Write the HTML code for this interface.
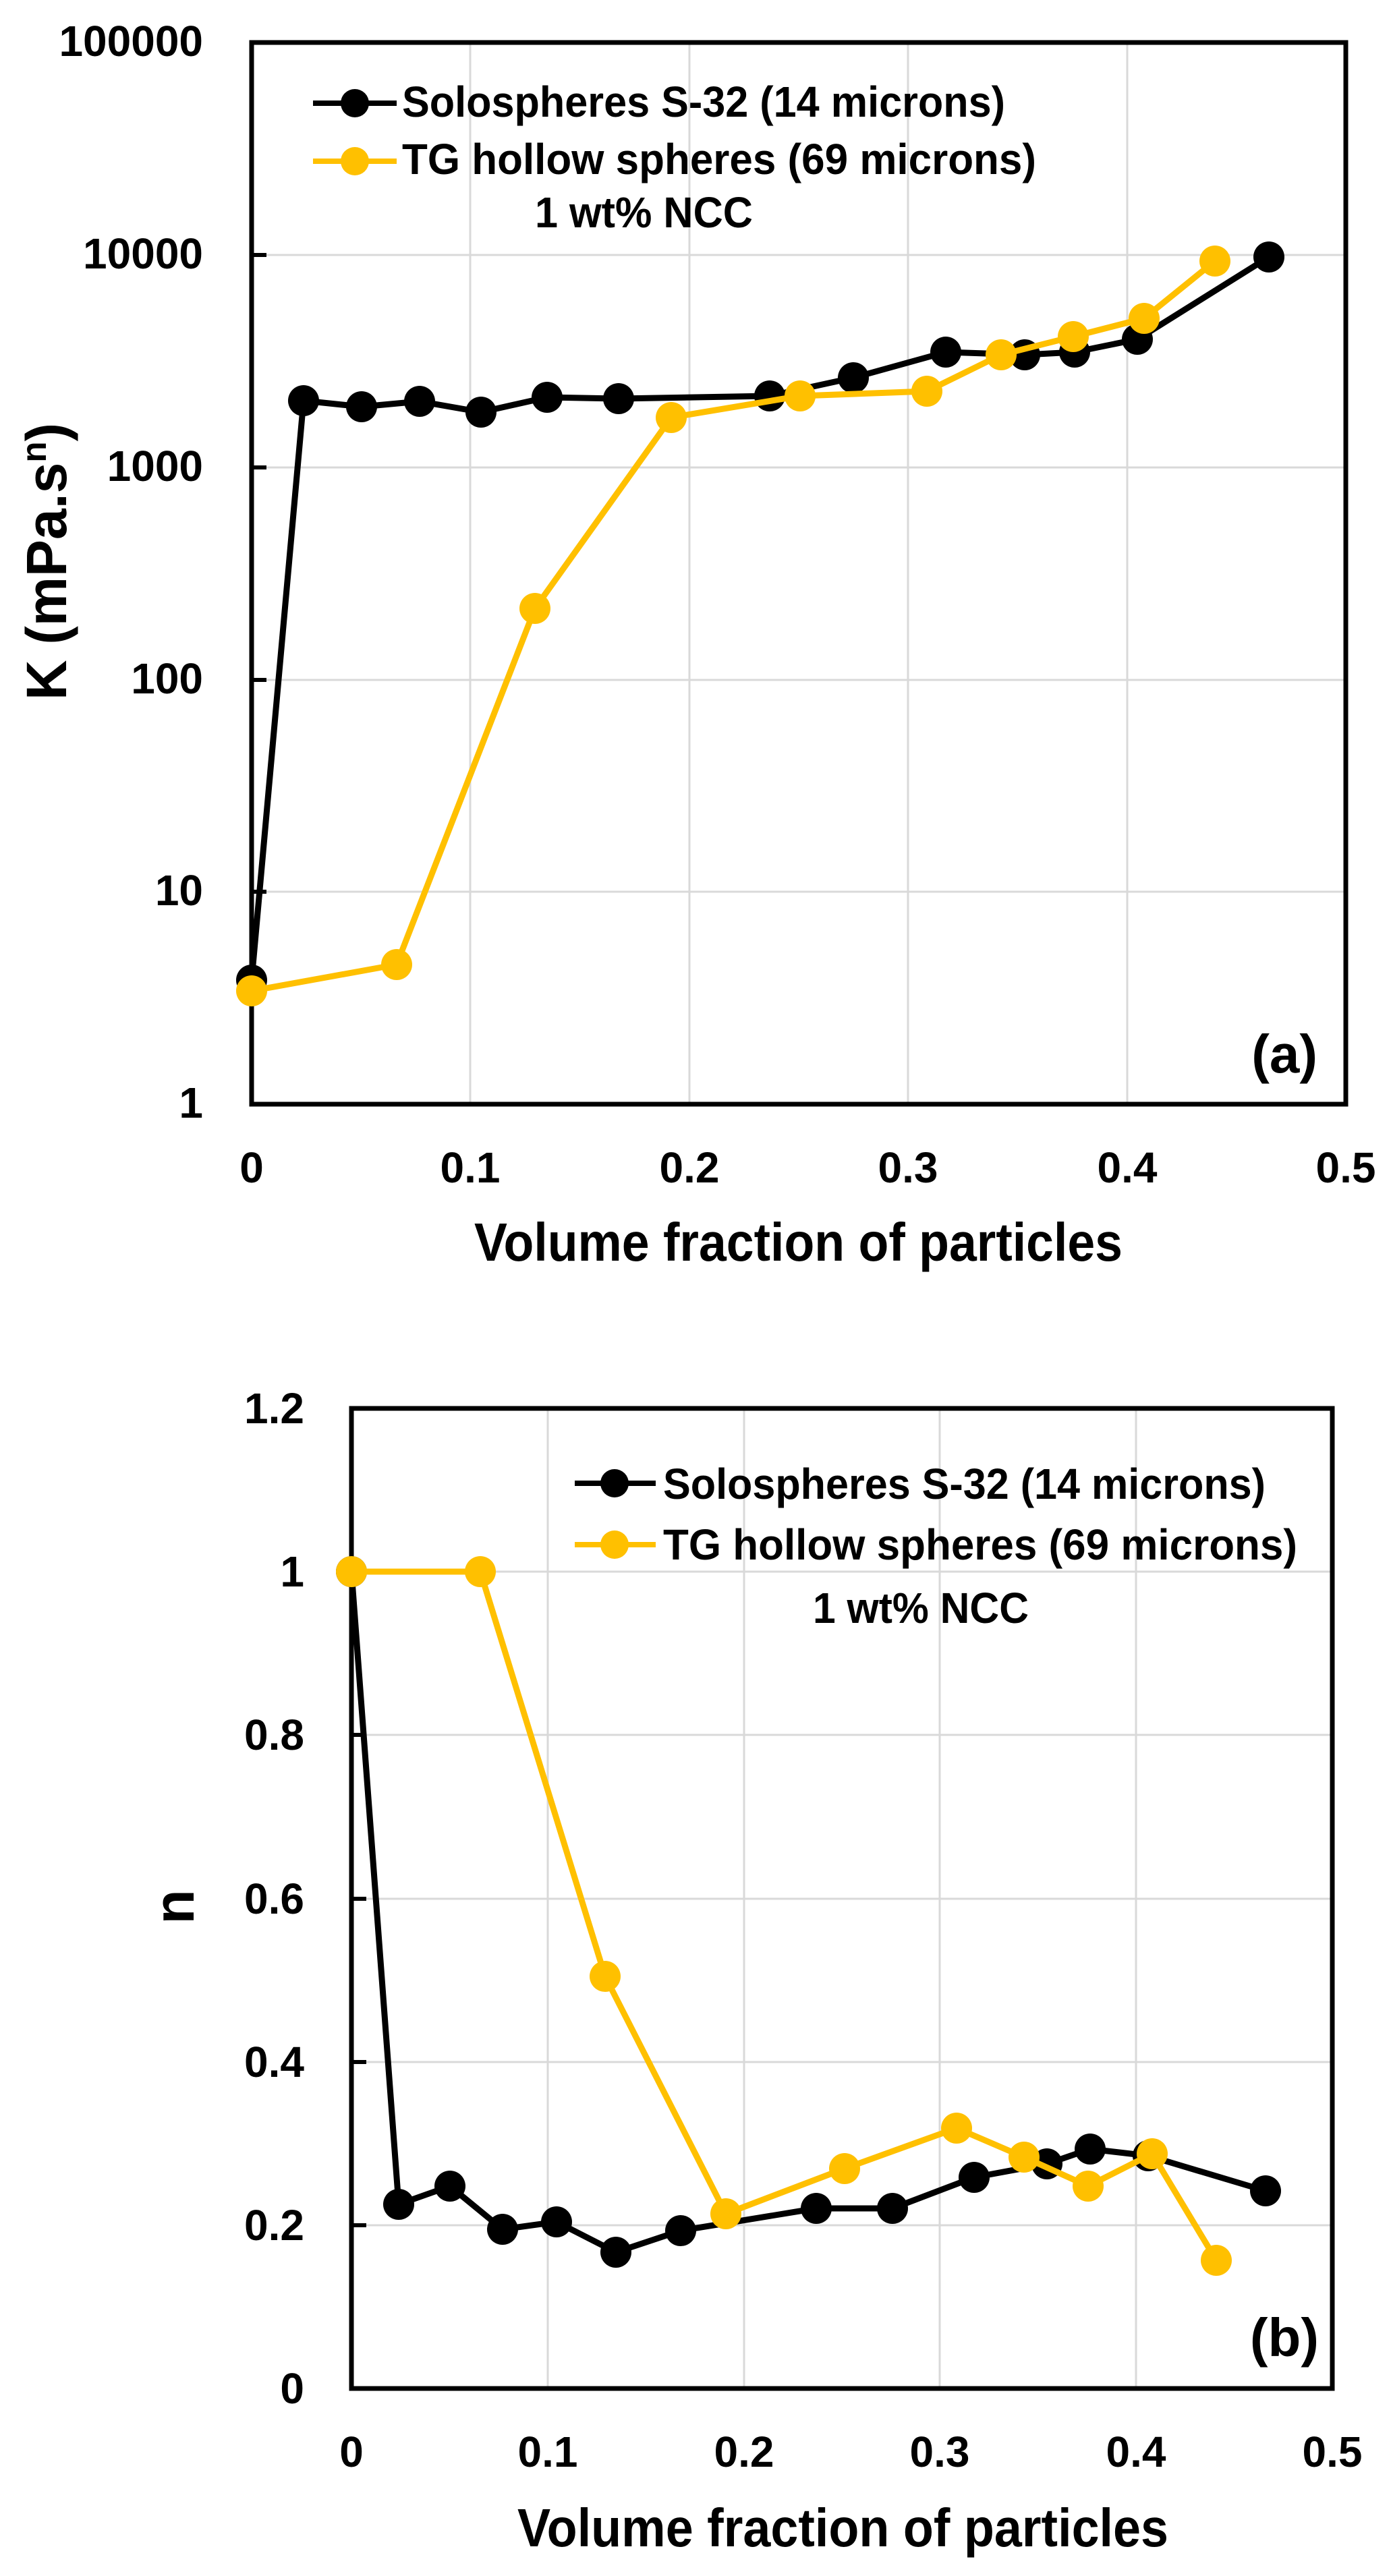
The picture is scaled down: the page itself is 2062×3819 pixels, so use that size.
<!DOCTYPE html>
<html><head><meta charset="utf-8"><style>html,body{margin:0;padding:0;background:#fff}svg{display:block}</style></head>
<body>
<svg xmlns="http://www.w3.org/2000/svg" width="2062" height="3819" viewBox="0 0 2062 3819" font-family="'Liberation Sans', sans-serif" font-weight="bold">
<rect width="2062" height="3819" fill="#fff"/>
<!-- ===== Chart (a) ===== -->
<g stroke="#d9d9d9" stroke-width="3">
<line x1="697" y1="63" x2="697" y2="1637"/><line x1="1022" y1="63" x2="1022" y2="1637"/><line x1="1346" y1="63" x2="1346" y2="1637"/><line x1="1671" y1="63" x2="1671" y2="1637"/>
<line x1="373" y1="378" x2="1995" y2="378"/><line x1="373" y1="693" x2="1995" y2="693"/><line x1="373" y1="1008" x2="1995" y2="1008"/><line x1="373" y1="1322" x2="1995" y2="1322"/>
</g>
<g stroke="#000" stroke-width="6"><line x1="373" y1="378" x2="395" y2="378"/><line x1="373" y1="693" x2="395" y2="693"/><line x1="373" y1="1008" x2="395" y2="1008"/><line x1="373" y1="1322" x2="395" y2="1322"/></g>
<rect x="373" y="63" width="1622" height="1574" fill="none" stroke="#000" stroke-width="7"/>
<g font-size="64" text-anchor="end" fill="#000">
<text x="301" y="83">100000</text><text x="301" y="398">10000</text><text x="301" y="713">1000</text><text x="301" y="1028">100</text><text x="301" y="1342">10</text><text x="301" y="1657">1</text>
</g>
<g font-size="64" text-anchor="middle" fill="#000">
<text x="373" y="1753">0</text><text x="697" y="1753">0.1</text><text x="1022" y="1753">0.2</text><text x="1346" y="1753">0.3</text><text x="1671" y="1753">0.4</text><text x="1995" y="1753">0.5</text>
</g>
<text x="703" y="1869" font-size="80" textLength="961" lengthAdjust="spacingAndGlyphs">Volume fraction of particles</text>
<text transform="translate(98,1038) rotate(-90)" font-size="84" textLength="411" lengthAdjust="spacingAndGlyphs">K (mPa.s<tspan font-size="52" dy="-30">n</tspan><tspan dy="30">)</tspan></text>
<polyline fill="none" stroke="#000" stroke-width="9" stroke-linejoin="round" points="373,1453 450,594 536,603 622,595 713,611 811,589 917,591 1141,587 1265,560 1402,522 1519,526 1593,522 1686,503 1881,381"/>
<g fill="#000"><circle cx="373" cy="1453" r="23"/><circle cx="450" cy="594" r="23"/><circle cx="536" cy="603" r="23"/><circle cx="622" cy="595" r="23"/><circle cx="713" cy="611" r="23"/><circle cx="811" cy="589" r="23"/><circle cx="917" cy="591" r="23"/><circle cx="1141" cy="587" r="23"/><circle cx="1265" cy="560" r="23"/><circle cx="1402" cy="522" r="23"/><circle cx="1519" cy="526" r="23"/><circle cx="1593" cy="522" r="23"/><circle cx="1686" cy="503" r="23"/><circle cx="1881" cy="381" r="23"/></g>
<polyline fill="none" stroke="#ffc000" stroke-width="9" stroke-linejoin="round" points="373,1469 588,1430 793,902 995,619 1186,587 1374,580 1484,526 1591,499 1696,472 1801,387"/>
<g fill="#ffc000"><circle cx="373" cy="1469" r="23"/><circle cx="588" cy="1430" r="23"/><circle cx="793" cy="902" r="23"/><circle cx="995" cy="619" r="23"/><circle cx="1186" cy="587" r="23"/><circle cx="1374" cy="580" r="23"/><circle cx="1484" cy="526" r="23"/><circle cx="1591" cy="499" r="23"/><circle cx="1696" cy="472" r="23"/><circle cx="1801" cy="387" r="23"/></g>
<line x1="464" y1="153" x2="588" y2="153" stroke="#000" stroke-width="8"/><circle cx="526" cy="153" r="21" fill="#000"/>
<line x1="464" y1="239" x2="588" y2="239" stroke="#ffc000" stroke-width="8"/><circle cx="526" cy="239" r="21" fill="#ffc000"/>
<g font-size="64" fill="#000">
<text x="596" y="173" textLength="894" lengthAdjust="spacingAndGlyphs">Solospheres S-32 (14 microns)</text>
<text x="596" y="258" textLength="940" lengthAdjust="spacingAndGlyphs">TG hollow spheres (69 microns)</text>
<text x="793" y="337" textLength="323" lengthAdjust="spacingAndGlyphs">1 wt% NCC</text>
</g>
<text x="1953" y="1590" font-size="80" text-anchor="end">(a)</text>

<!-- ===== Chart (b) ===== -->
<g stroke="#d9d9d9" stroke-width="3">
<line x1="812" y1="2088" x2="812" y2="3541"/><line x1="1103" y1="2088" x2="1103" y2="3541"/><line x1="1393" y1="2088" x2="1393" y2="3541"/><line x1="1684" y1="2088" x2="1684" y2="3541"/>
<line x1="521" y1="2330" x2="1975" y2="2330"/><line x1="521" y1="2572" x2="1975" y2="2572"/><line x1="521" y1="2815" x2="1975" y2="2815"/><line x1="521" y1="3057" x2="1975" y2="3057"/><line x1="521" y1="3299" x2="1975" y2="3299"/>
</g>
<g stroke="#000" stroke-width="6"><line x1="521" y1="2330" x2="543" y2="2330"/><line x1="521" y1="2572" x2="543" y2="2572"/><line x1="521" y1="2815" x2="543" y2="2815"/><line x1="521" y1="3057" x2="543" y2="3057"/><line x1="521" y1="3299" x2="543" y2="3299"/></g>
<rect x="521" y="2088" width="1454" height="1453" fill="none" stroke="#000" stroke-width="7"/>
<g font-size="64" text-anchor="end" fill="#000">
<text x="451" y="2110">1.2</text><text x="451" y="2352">1</text><text x="451" y="2594">0.8</text><text x="451" y="2837">0.6</text><text x="451" y="3079">0.4</text><text x="451" y="3321">0.2</text><text x="451" y="3563">0</text>
</g>
<g font-size="64" text-anchor="middle" fill="#000">
<text x="521" y="3657">0</text><text x="812" y="3657">0.1</text><text x="1103" y="3657">0.2</text><text x="1393" y="3657">0.3</text><text x="1684" y="3657">0.4</text><text x="1975" y="3657">0.5</text>
</g>
<text x="767" y="3775" font-size="80" textLength="965" lengthAdjust="spacingAndGlyphs">Volume fraction of particles</text>
<text transform="translate(287,2827) rotate(-90)" font-size="84" text-anchor="middle">n</text>
<polyline fill="none" stroke="#000" stroke-width="9" stroke-linejoin="round" points="521,2330 591,3268 667,3241 745,3305 825,3294 913,3339 1009,3307 1210,3274 1323,3274 1444,3228 1552,3208 1616,3186 1702,3196 1876,3248"/>
<g fill="#000"><circle cx="521" cy="2330" r="23"/><circle cx="591" cy="3268" r="23"/><circle cx="667" cy="3241" r="23"/><circle cx="745" cy="3305" r="23"/><circle cx="825" cy="3294" r="23"/><circle cx="913" cy="3339" r="23"/><circle cx="1009" cy="3307" r="23"/><circle cx="1210" cy="3274" r="23"/><circle cx="1323" cy="3274" r="23"/><circle cx="1444" cy="3228" r="23"/><circle cx="1552" cy="3208" r="23"/><circle cx="1616" cy="3186" r="23"/><circle cx="1702" cy="3196" r="23"/><circle cx="1876" cy="3248" r="23"/></g>
<polyline fill="none" stroke="#ffc000" stroke-width="9" stroke-linejoin="round" points="521,2330 712,2330 897,2930 1076,3282 1252,3215 1418,3155 1518,3198 1613,3241 1708,3193 1803,3351"/>
<g fill="#ffc000"><circle cx="521" cy="2330" r="23"/><circle cx="712" cy="2330" r="23"/><circle cx="897" cy="2930" r="23"/><circle cx="1076" cy="3282" r="23"/><circle cx="1252" cy="3215" r="23"/><circle cx="1418" cy="3155" r="23"/><circle cx="1518" cy="3198" r="23"/><circle cx="1613" cy="3241" r="23"/><circle cx="1708" cy="3193" r="23"/><circle cx="1803" cy="3351" r="23"/></g>
<line x1="852" y1="2199" x2="972" y2="2199" stroke="#000" stroke-width="8"/><circle cx="911" cy="2199" r="21" fill="#000"/>
<line x1="852" y1="2290" x2="972" y2="2290" stroke="#ffc000" stroke-width="8"/><circle cx="911" cy="2290" r="21" fill="#ffc000"/>
<g font-size="64" fill="#000">
<text x="983" y="2222" textLength="893" lengthAdjust="spacingAndGlyphs">Solospheres S-32 (14 microns)</text>
<text x="983" y="2312" textLength="940" lengthAdjust="spacingAndGlyphs">TG hollow spheres (69 microns)</text>
<text x="1205" y="2406" textLength="320" lengthAdjust="spacingAndGlyphs">1 wt% NCC</text>
</g>
<text x="1955" y="3493" font-size="80" text-anchor="end">(b)</text>
</svg>
</body></html>
